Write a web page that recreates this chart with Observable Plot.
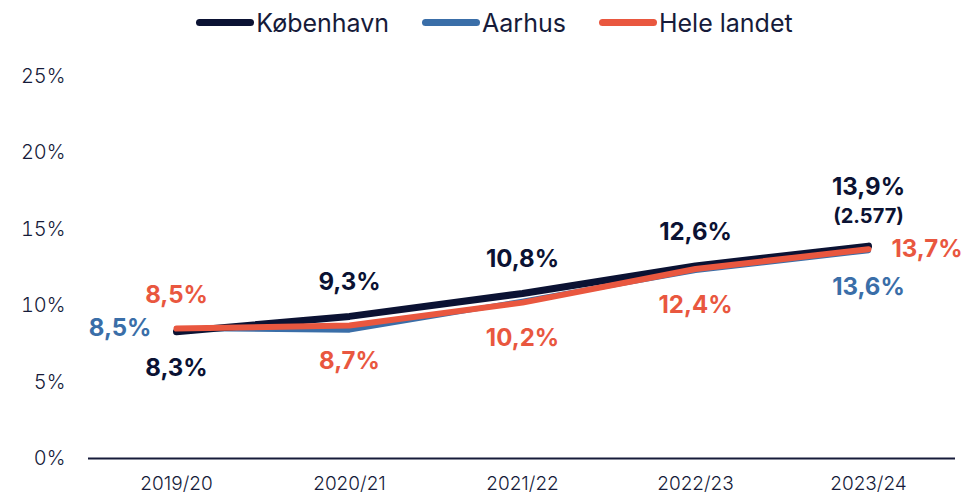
<!DOCTYPE html>
<html>
<head>
<meta charset="utf-8">
<script src="https://cdn.jsdelivr.net/npm/d3@7"></script>
<script src="https://cdn.jsdelivr.net/npm/@observablehq/plot@0.6"></script>
<style>
  body { margin: 0; background: #fff; font-family: Inter, "Noto Sans", sans-serif; }
  #legend { height: 45px; display: flex; justify-content: center; align-items: center; gap: 33px; padding-left: 14px; color: #161b3a; font-size: 25px; font-weight: 400; }
  .item { display: flex; align-items: center; }
  .sw { width: 58px; height: 7px; border-radius: 4px; margin-right: 2px; }
</style>
</head>
<body>
<div id="legend"></div>
<div id="chart"></div>
<script>
const years = ["2019/20", "2020/21", "2021/22", "2022/23", "2023/24"];
const series = ["København", "Aarhus", "Hele landet"];
const kobenhavn = [8.3, 9.3, 10.8, 12.6, 13.9];
const aarhus = [8.5, 8.4, 10.3, 12.3, 13.6];
const heleLandet = [8.5, 8.7, 10.2, 12.4, 13.7];
const colors = ["#0b1233", "#3a6ea8", "#e9573f"];
const yTicks = [0, 5, 10, 15, 20, 25];
const kbhCount = "(2.577)";

const fmt = v => v.toFixed(1).replace(".", ",") + "%";
const rows = (name, vals) => vals.map((v, i) => ({series: name, year: years[i], value: v, label: fmt(v), i}));
const kbh = rows(series[0], kobenhavn);
const aar = rows(series[1], aarhus);
const hele = rows(series[2], heleLandet);

const legend = document.getElementById("legend");
series.forEach((s, i) => {
  const d = document.createElement("div");
  d.className = "item";
  d.innerHTML = `<span class="sw" style="background:${colors[i]}"></span><span>${s}</span>`;
  legend.appendChild(d);
});

const labelStyle = {fontSize: 24, fontWeight: 700, fontFamily: "Inter, sans-serif"};

const chart = Plot.plot({
  width: 975,
  height: 451,
  marginLeft: 88,
  marginRight: 20,
  marginTop: 31,
  marginBottom: 38,
  style: {fontFamily: "Inter, sans-serif", color: "#161b3a", background: "#fff", overflow: "visible"},
  x: {type: "point", domain: years, padding: 0.5, label: null},
  y: {domain: [0, 25], label: null},
  marks: [
    Plot.axisY({ticks: yTicks, tickFormat: d => d + "%", tickSize: 0, tickPadding: 23, fontSize: 20, fontWeight: 300, label: null}),
    Plot.axisX({tickSize: 0, tickPadding: 18, fontSize: 19, fontWeight: 300, label: null}),
    Plot.ruleY([0], {stroke: "#161b3a", strokeWidth: 2}),
    Plot.line(aar, {x: "year", y: "value", stroke: colors[1], strokeWidth: 5, strokeLinecap: "round", strokeLinejoin: "round"}),
    Plot.line(kbh, {x: "year", y: "value", stroke: colors[0], strokeWidth: 7, strokeLinecap: "round", strokeLinejoin: "round"}),
    Plot.line(hele, {x: "year", y: "value", stroke: colors[2], strokeWidth: 6, strokeLinecap: "round", strokeLinejoin: "round"}),
    // København labels
    Plot.text(kbh.filter(d => d.i === 0), {x: "year", y: "value", text: "label", fill: colors[0], dy: 37, ...labelStyle}),
    Plot.text(kbh.filter(d => d.i > 0 && d.i < 4), {x: "year", y: "value", text: "label", fill: colors[0], dy: -34, ...labelStyle}),
    Plot.text(kbh.filter(d => d.i === 4), {x: "year", y: "value", text: "label", fill: colors[0], dy: -59, ...labelStyle}),
    Plot.text(kbh.filter(d => d.i === 4), {x: "year", y: "value", text: () => kbhCount, fill: colors[0], dy: -30, fontSize: 20, fontWeight: 700, fontFamily: "Inter, sans-serif"}),
    // Aarhus labels
    Plot.text(aar.filter(d => d.i === 0), {x: "year", y: "value", text: "label", fill: colors[1], dx: -25, textAnchor: "end", ...labelStyle}),
    Plot.text(aar.filter(d => d.i === 4), {x: "year", y: "value", text: "label", fill: colors[1], dy: 37, ...labelStyle}),
    // Hele landet labels
    Plot.text(hele.filter(d => d.i === 0), {x: "year", y: "value", text: "label", fill: colors[2], dy: -33, ...labelStyle}),
    Plot.text(hele.filter(d => d.i > 0 && d.i < 4), {x: "year", y: "value", text: "label", fill: colors[2], dy: 36, ...labelStyle}),
    Plot.text(hele.filter(d => d.i === 4), {x: "year", y: "value", text: "label", fill: colors[2], dx: 23, textAnchor: "start", ...labelStyle})
  ]
});
document.getElementById("chart").appendChild(chart);
</script>
</body>
</html>
